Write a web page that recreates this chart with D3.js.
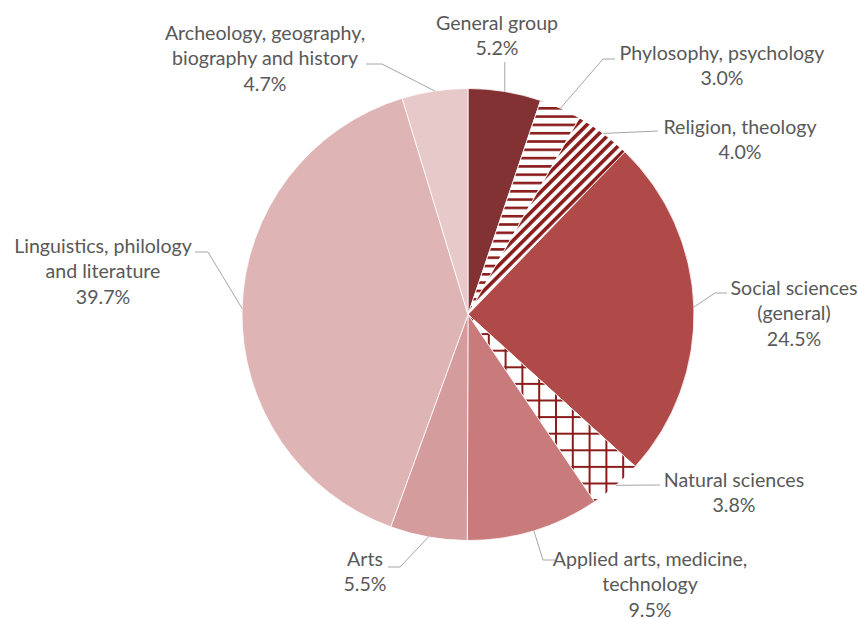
<!DOCTYPE html>
<html>
<head>
<meta charset="utf-8">
<script src="https://cdn.jsdelivr.net/npm/d3@7"></script>
<style>
  html, body { margin: 0; padding: 0; background: #ffffff; }
  svg { display: block; }
  text { font-family: Lato, "Open Sans", sans-serif; fill: #595959; }
</style>
</head>
<body>
<svg id="chart" width="859" height="619"></svg>
<script>
// ---- data ----
const categories = [
  "General group",
  "Phylosophy, psychology",
  "Religion, theology",
  "Social sciences (general)",
  "Natural sciences",
  "Applied arts, medicine, technology",
  "Arts",
  "Linguistics, philology and literature",
  "Archeology, geography, biography and history"
];
const values = [5.2, 3.0, 4.0, 24.5, 3.8, 9.5, 5.5, 39.7, 4.7];
const valueLabels = ["5.2%", "3.0%", "4.0%", "24.5%", "3.8%", "9.5%", "5.5%", "39.7%", "4.7%"];
const labelLines = [
  ["General group"],
  ["Phylosophy, psychology"],
  ["Religion, theology"],
  ["Social sciences", "(general)"],
  ["Natural sciences"],
  ["Applied arts, medicine,", "technology"],
  ["Arts"],
  ["Linguistics, philology", "and literature"],
  ["Archeology, geography,", "biography and history"]
];

// ---- styles ----
const fills = ["#833234", "url(#pHoriz)", "url(#pDiag)", "#B04A49", "url(#pGrid)",
               "#C97B7B", "#D49C9C", "#DFB4B4", "#E8C9C9"];
const patColor = "#8B1C1C";

// ---- layout (label placement) ----
const cx = 468, cy = 314.5, R = 226;
const lineH = 25.5;
const labelLayout = [
  { x: 497, y: 22,  leader: [[null, 62]] },
  { x: 722, y: 52,  leader: [[603, 59], [615, 59]] },
  { x: 740, y: 126, leader: [[658, 131]] },
  { x: 794, y: 287, leader: [[715, 293], [727, 293]] },
  { x: 734, y: 479, leader: [[660, 485]] },
  { x: 650, y: 558, leader: [[543, 560], [555, 560]] },
  { x: 365, y: 558, leader: [[400, 567], [388, 567]] },
  { x: 103, y: 245, leader: [[208, 252], [195, 252]] },
  { x: 265, y: 32,  leader: [[382, 64], [366, 64]] }
];

const svg = d3.select("#chart");
const defs = svg.append("defs");

const ph = defs.append("pattern").attr("id", "pHoriz").attr("patternUnits", "userSpaceOnUse")
  .attr("width", 8).attr("height", 8.3);
ph.append("rect").attr("width", 8).attr("height", 8.3).attr("fill", "#fff");
ph.append("rect").attr("y", 0).attr("width", 8).attr("height", 2.6).attr("fill", patColor);

const pd = defs.append("pattern").attr("id", "pDiag").attr("patternUnits", "userSpaceOnUse")
  .attr("width", 10).attr("height", 7.4).attr("patternTransform", "rotate(-45)");
pd.append("rect").attr("width", 10).attr("height", 7.4).attr("fill", "#fff");
pd.append("rect").attr("y", 0).attr("width", 10).attr("height", 3.6).attr("fill", patColor);

const pg = defs.append("pattern").attr("id", "pGrid").attr("patternUnits", "userSpaceOnUse")
  .attr("width", 16.8).attr("height", 16.6).attr("x", 3).attr("y", 2);
pg.append("rect").attr("width", 16.8).attr("height", 16.6).attr("fill", "#fff");
pg.append("rect").attr("x", 0).attr("width", 2).attr("height", 16.6).attr("fill", patColor);
pg.append("rect").attr("y", 0).attr("width", 16.8).attr("height", 2).attr("fill", patColor);

const pie = d3.pie().sort(null).value(d => d)(values);
const arc = d3.arc().innerRadius(0).outerRadius(R);

const g = svg.append("g").attr("transform", `translate(${cx},${cy})`);
g.selectAll("path.slice").data(pie).join("path")
  .attr("class", "slice")
  .attr("d", arc)
  .attr("fill", (d, i) => fills[i])
  .attr("stroke", "#fff")
  .attr("stroke-width", 0.8);

const lg = svg.append("g");
pie.forEach((d, i) => {
  const a = (d.startAngle + d.endAngle) / 2;
  const px = cx + R * Math.sin(a), py = cy - R * Math.cos(a);
  const pts = [[px, py]];
  labelLayout[i].leader.forEach(p => pts.push([p[0] === null ? px : p[0], p[1]]));
  lg.append("path")
    .attr("d", d3.line()(pts))
    .attr("fill", "none")
    .attr("stroke", "#A6A6A6")
    .attr("stroke-width", 1);
});

const tg = svg.append("g");
labelLines.forEach((lines, i) => {
  const L = labelLayout[i];
  const all = lines.concat([valueLabels[i]]);
  const t = tg.append("text")
    .attr("text-anchor", "middle")
    .attr("font-size", 19.6);
  all.forEach((s, k) => {
    t.append("tspan").attr("x", L.x).attr("y", L.y + k * lineH)
      .attr("dominant-baseline", "central").text(s);
  });
});
</script>
</body>
</html>
